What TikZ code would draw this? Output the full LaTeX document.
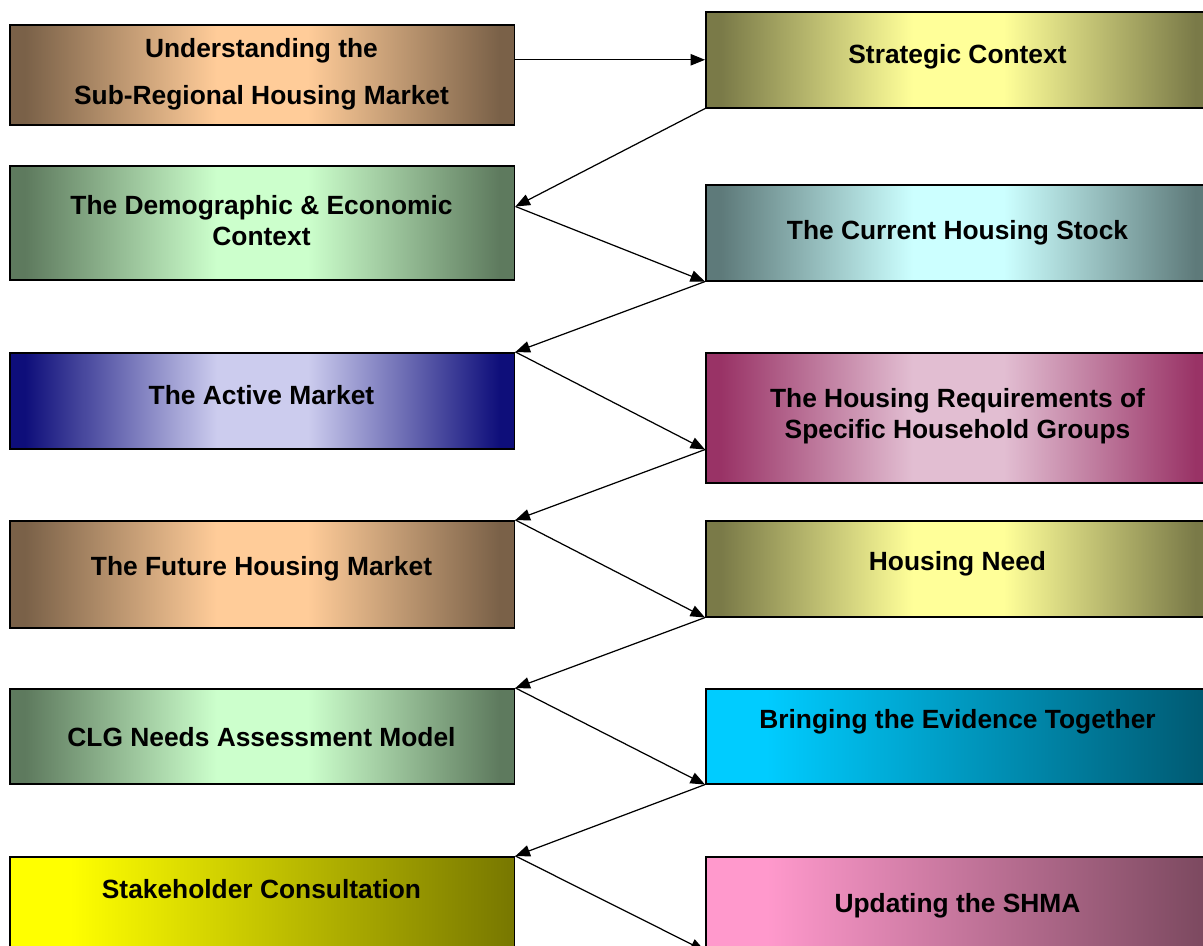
\documentclass[tikz,border=0pt]{standalone}
\usepackage{fontspec}
\setmainfont{Liberation Sans}
\usetikzlibrary{arrows.meta}
\definecolor{brownedge}{RGB}{122,97,72}
\definecolor{peach}{RGB}{255,204,153}
\definecolor{greenedge}{RGB}{94,122,94}
\definecolor{mint}{RGB}{204,255,204}
\definecolor{navy}{RGB}{14,14,122}
\definecolor{lavender}{RGB}{204,204,238}
\definecolor{oliveedge}{RGB}{122,122,72}
\definecolor{paleyellow}{RGB}{255,255,153}
\definecolor{tealedge}{RGB}{94,122,122}
\definecolor{paleaqua}{RGB}{204,255,255}
\definecolor{plum}{RGB}{153,51,102}
\definecolor{rosewash}{RGB}{226,190,210}
\definecolor{lemon}{RGB}{255,255,0}
\definecolor{darkolive}{RGB}{119,119,0}
\definecolor{skyblue}{RGB}{0,204,255}
\definecolor{deepteal}{RGB}{0,88,112}
\definecolor{rosepink}{RGB}{255,153,204}
\definecolor{mauve}{RGB}{122,72,94}

% box fills: dark edges with a light band, and a one-way ramp
\colorlet{edgecol}{black}\colorlet{midcol}{white}
\colorlet{startcol}{white}\colorlet{endcol}{black}
\pgfdeclarehorizontalshading[edgecol,midcol]{glowshade}{100bp}{color(0bp)=(edgecol); color(26.5bp)=(edgecol);
    color(45.5bp)=(midcol); color(54.5bp)=(midcol); color(73.5bp)=(edgecol); color(100bp)=(edgecol)}
\pgfdeclarehorizontalshading[startcol,endcol]{rampshade}{100bp}{color(0bp)=(startcol); color(31bp)=(startcol);
    color(75bp)=(endcol); color(100bp)=(endcol)}

\begin{document}
\begin{tikzpicture}[x=0.02cm, y=-0.02cm,
    stage/.style={draw=black, line width=0.9pt, anchor=north west, inner sep=0pt, minimum width=10.1cm},
    glow/.style 2 args={/utils/exec={\colorlet{edgecol}{#1}\colorlet{midcol}{#2}}, shading=glowshade},
    ramp/.style 2 args={/utils/exec={\colorlet{startcol}{#1}\colorlet{endcol}{#2}}, shading=rampshade},
    caption/.style={font=\fontsize{15}{17.6}\selectfont\bfseries, align=center},
    flow/.style={-{Triangle[length=0.29cm,width=0.23cm]}, line width=0.7pt}]
    \useasboundingbox (0,0) rectangle (1203,946);
    \clip (0,0) rectangle (1203,946);

    % Left column
    \node[stage, glow={brownedge}{peach}, minimum height=2cm] (L1) at (9,24) {};
    \node[stage, glow={greenedge}{mint}, minimum height=2.28cm] (L2) at (9,165) {};
    \node[stage, glow={navy}{lavender}, minimum height=1.92cm] (L3) at (9,352) {};
    \node[stage, glow={brownedge}{peach}, minimum height=2.14cm] (L4) at (9,520) {};
    \node[stage, glow={greenedge}{mint}, minimum height=1.9cm] (L5) at (9,688) {};
    \node[stage, ramp={lemon}{darkolive}, minimum height=2.3cm] (L6) at (9,856) {};

    % Right column
    \node[stage, glow={oliveedge}{paleyellow}, minimum height=1.92cm] (R1) at (705,11) {};
    \node[stage, glow={tealedge}{paleaqua}, minimum height=1.92cm] (R2) at (705,184) {};
    \node[stage, glow={plum}{rosewash}, minimum height=2.6cm] (R3) at (705,352) {};
    \node[stage, glow={oliveedge}{paleyellow}, minimum height=1.92cm] (R4) at (705,520) {};
    \node[stage, ramp={skyblue}{deepteal}, minimum height=1.9cm] (R5) at (705,688) {};
    \node[stage, ramp={rosepink}{mauve}, minimum height=2.3cm] (R6) at (705,856) {};

    % Texts
    \node[caption] (tL1) at (261.5,74) {Understanding the\\[9pt]Sub-Regional Housing Market};
    \node[caption] (tL2) at (261.5,221) {The Demographic \& Economic\\Context};
    \node[caption] (tL3) at (261.5,395) {The Active Market};
    \node[caption] (tL4) at (261.5,569) {The Future Housing Market};
    \node[caption] (tL5) at (261.5,737) {CLG Needs Assessment Model};
    \node[caption] (tL6) at (261.5,889) {Stakeholder Consultation};
    \node[caption] (tR1) at (957.5,57) {Strategic Context};
    \node[caption] (tR2) at (957.5,233) {The Current Housing Stock};
    \node[caption] (tR3) at (957.5,416) {The Housing Requirements of\\Specific Household Groups};
    \node[caption] (tR4) at (957.5,564) {Housing Need};
    \node[caption] (tR5) at (957.5,722) {Bringing the Evidence Together};
    \node[caption] (tR6) at (957.5,906) {Updating the SHMA};

    % Joints off the corners
    \coordinate (j2) at ([yshift=-0.83cm]L2.north east);
    \coordinate (j3) at ([yshift=0.68cm]R3.south west);
    \coordinate (j6) at ([yshift=-1.9cm]R6.north west);

    % Zig-zag flow
    \draw[flow] (R1.west -| L1.east) -- (R1.west);
    \draw[flow] (R1.south west) -- (j2);
    \draw[flow] (j2) -- (R2.south west);
    \draw[flow] (R2.south west) -- (L3.north east);
    \draw[flow] (L3.north east) -- (j3);
    \draw[flow] (j3) -- (L4.north east);
    \draw[flow] (L4.north east) -- (R4.south west);
    \draw[flow] (R4.south west) -- (L5.north east);
    \draw[flow] (L5.north east) -- (R5.south west);
    \draw[flow] (R5.south west) -- (L6.north east);
    \draw[flow] (L6.north east) -- (j6);
\end{tikzpicture}
\end{document}
